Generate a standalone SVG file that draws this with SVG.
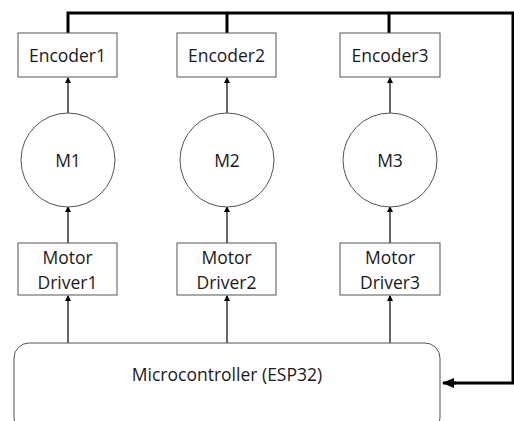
<svg xmlns="http://www.w3.org/2000/svg" width="514" height="421" viewBox="0 0 514 421">
<style>
.box{fill:#fff;stroke:#555;stroke-width:1}
.t{font-family:"Open Sans","Liberation Sans",sans-serif;font-size:17.5px;fill:#1a1a1a;text-anchor:middle}
.thin{stroke:#000;stroke-width:1.2;fill:none}
.thick{stroke:#000;stroke-width:3;fill:none}
</style>
<defs>
<marker id="a" markerWidth="6" markerHeight="6" refX="5" refY="3" orient="auto" markerUnits="userSpaceOnUse">
<path d="M0,0 L6,3 L0,6 Z" fill="#000"/>
</marker>
<marker id="b" markerWidth="12" markerHeight="10" refX="11" refY="5" orient="auto" markerUnits="userSpaceOnUse">
<path d="M0,0 L12,5 L0,10 Z" fill="#000"/>
</marker>
</defs>
<g id="connectors">
<path class="thick" d="M68,33 V13 H513 V383 H452"/>
<path class="thick" d="M227,13 V33 M389,13 V33"/>
<line class="thick" x1="456" y1="383" x2="443" y2="383" marker-end="url(#b)"/>
<line class="thin" x1="68" y1="113" x2="68" y2="78" marker-end="url(#a)"/>
<line class="thin" x1="227" y1="113" x2="227" y2="78" marker-end="url(#a)"/>
<line class="thin" x1="390" y1="113" x2="390" y2="78" marker-end="url(#a)"/>
<line class="thin" x1="68" y1="243" x2="68" y2="207" marker-end="url(#a)"/>
<line class="thin" x1="227" y1="243" x2="227" y2="207" marker-end="url(#a)"/>
<line class="thin" x1="390" y1="243" x2="390" y2="207" marker-end="url(#a)"/>
<line class="thin" x1="68" y1="343" x2="68" y2="296" marker-end="url(#a)"/>
<line class="thin" x1="227" y1="343" x2="227" y2="296" marker-end="url(#a)"/>
<line class="thin" x1="390" y1="343" x2="390" y2="296" marker-end="url(#a)"/>
</g>
<g id="encoder1"><rect class="box" x="18" y="33" width="99" height="44"/><text class="t" x="67.5" y="62">Encoder1</text></g>
<g id="encoder2"><rect class="box" x="177" y="33" width="99" height="44"/><text class="t" x="226.5" y="62">Encoder2</text></g>
<g id="encoder3"><rect class="box" x="340" y="33" width="100" height="44"/><text class="t" x="390" y="62">Encoder3</text></g>
<g id="m1"><circle class="box" cx="68" cy="160" r="47"/><text class="t" x="68" y="167">M1</text></g>
<g id="m2"><circle class="box" cx="227" cy="160" r="47"/><text class="t" x="227" y="167">M2</text></g>
<g id="m3"><circle class="box" cx="390" cy="160" r="47"/><text class="t" x="390" y="167">M3</text></g>
<g id="driver1"><rect class="box" x="18" y="243" width="99" height="52"/><text class="t" x="67.5" y="264">Motor</text><text class="t" x="67.5" y="288.5">Driver1</text></g>
<g id="driver2"><rect class="box" x="177" y="243" width="99" height="52"/><text class="t" x="226.5" y="264">Motor</text><text class="t" x="226.5" y="288.5">Driver2</text></g>
<g id="driver3"><rect class="box" x="340" y="243" width="100" height="52"/><text class="t" x="390" y="264">Motor</text><text class="t" x="390" y="288.5">Driver3</text></g>
<g id="mcu"><rect class="box" x="14" y="343" width="426" height="90" rx="15"/><text class="t" x="227" y="381">Microcontroller (ESP32)</text></g>
</svg>
